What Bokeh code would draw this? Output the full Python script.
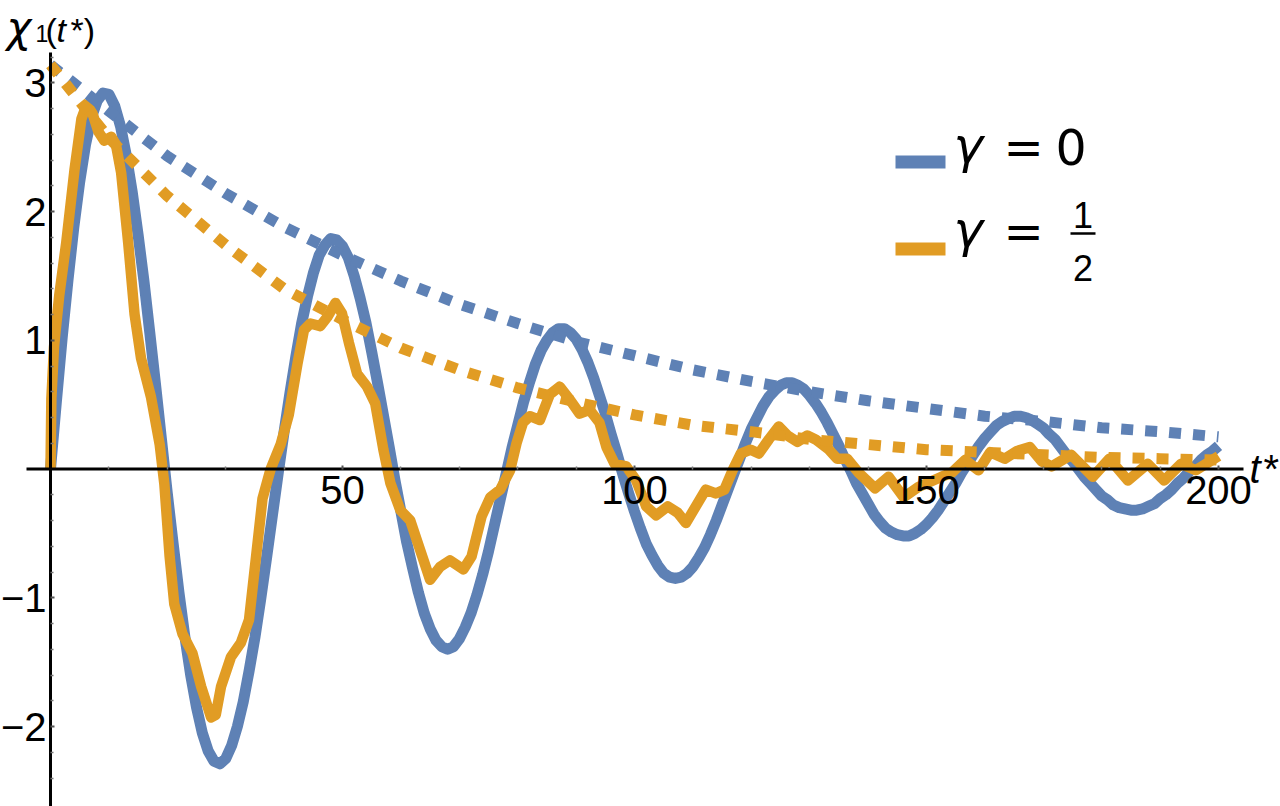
from bokeh.plotting import figure
from bokeh.models import Range1d, FixedTicker, Label
from bokeh.embed import file_html
from bokeh.resources import INLINE

# ---------------- data ----------------
blue_t = list(range(0, 201))
blue_v = [0.00, 0.52, 1.02, 1.47, 1.88, 2.23, 2.52, 2.73, 2.86, 2.92,
          2.91, 2.82, 2.66, 2.43, 2.15, 1.82, 1.46, 1.06, 0.65, 0.23,
          -0.19, -0.58, -0.96, -1.30, -1.60, -1.85, -2.05, -2.19, -2.27, -2.29,
          -2.25, -2.15, -2.00, -1.81, -1.57, -1.31, -1.01, -0.69, -0.36, -0.03,
          0.29, 0.59, 0.87, 1.13, 1.34, 1.52, 1.66, 1.74, 1.79, 1.78,
          1.73, 1.64, 1.50, 1.33, 1.14, 0.91, 0.67, 0.42, 0.17, -0.09,
          -0.33, -0.57, -0.77, -0.96, -1.12, -1.24, -1.33, -1.38, -1.40, -1.38,
          -1.32, -1.23, -1.12, -0.98, -0.82, -0.64, -0.44, -0.24, -0.04, 0.16,
          0.34, 0.52, 0.67, 0.81, 0.92, 1.00, 1.06, 1.09, 1.09, 1.06,
          1.01, 0.93, 0.83, 0.71, 0.57, 0.43, 0.27, 0.12, -0.04, -0.19,
          -0.33, -0.46, -0.58, -0.67, -0.75, -0.81, -0.84, -0.85, -0.84, -0.81,
          -0.76, -0.69, -0.61, -0.51, -0.40, -0.28, -0.16, -0.04, 0.08, 0.20,
          0.31, 0.40, 0.49, 0.56, 0.61, 0.65, 0.67, 0.67, 0.65, 0.62,
          0.57, 0.51, 0.44, 0.36, 0.27, 0.18, 0.08, -0.01, -0.11, -0.19,
          -0.27, -0.35, -0.41, -0.46, -0.49, -0.51, -0.52, -0.52, -0.50, -0.47,
          -0.43, -0.38, -0.32, -0.25, -0.18, -0.11, -0.03, 0.04, 0.11, 0.18,
          0.24, 0.29, 0.34, 0.37, 0.39, 0.41, 0.41, 0.40, 0.38, 0.35,
          0.32, 0.27, 0.23, 0.17, 0.11, 0.06, 0.00, -0.06, -0.11, -0.16,
          -0.21, -0.24, -0.28, -0.30, -0.31, -0.32, -0.32, -0.31, -0.29, -0.27,
          -0.23, -0.20, -0.16, -0.11, -0.07, -0.02, 0.02, 0.07, 0.11, 0.14,
          0.18]

orange_t = [0.0, 0.15, 0.6, 1.5, 2.7, 4.1, 5.3, 6.2, 7.2, 8.2, 9.2, 10.4, 11.2, 12.1,
            13.3, 14.4, 15.5, 17.2, 18.7, 19.5, 20.4, 21.2, 22.6, 24.3, 25.8, 27.5,
            28.3, 29.2, 30.9, 32.6, 34.0, 35.2, 36.3, 37.7, 39.4, 40.8, 42.3, 43.4,
            44.5, 46.2, 47.4, 48.8, 49.9, 51.1, 52.5, 54.2, 55.6, 57.0, 58.2, 59.9,
            61.6, 63.3, 65.0, 66.7, 68.4, 70.7, 72.1, 73.8, 75.3, 77.0, 78.7, 79.8,
            80.9, 82.1, 83.8, 85.5, 87.2, 88.9, 90.6, 92.3, 94.0, 95.2, 96.6, 98.6,
            100.3, 102.0, 103.7, 105.7, 107.4, 108.8, 110.5, 112.2, 113.9, 115.4,
            116.8, 118.2, 119.9, 121.3, 123.0, 124.7, 126.2, 127.9, 129.6, 131.0,
            133.3, 134.7, 136.4, 138.4, 141.2, 143.5, 146.1, 148.6, 152.6, 154.3,
            156.6, 158.9, 160.9, 163.4, 165.5, 167.7, 169.7, 171.4, 174.8, 178.5,
            181.3, 184.5, 187.9, 190.7, 193.6, 196.1, 200.0]
orange_v = [0.00, 0.55, 0.95, 1.35, 1.76, 2.32, 2.72, 2.83, 2.76, 2.62, 2.55, 2.58, 2.52, 2.30,
            1.76, 1.20, 0.86, 0.56, 0.19, -0.12, -0.68, -1.05, -1.28, -1.43, -1.69, -1.93,
            -1.91, -1.69, -1.46, -1.35, -1.17, -0.68, -0.23, 0.00, 0.19, 0.42, 0.82, 1.08,
            1.13, 1.11, 1.18, 1.29, 1.21, 0.98, 0.74, 0.64, 0.51, 0.15, -0.11, -0.32,
            -0.40, -0.63, -0.86, -0.76, -0.71, -0.78, -0.68, -0.37, -0.22, -0.16, -0.01, 0.20,
            0.36, 0.41, 0.38, 0.58, 0.64, 0.54, 0.43, 0.46, 0.36, 0.17, 0.04, 0.02,
            -0.09, -0.29, -0.36, -0.29, -0.34, -0.42, -0.29, -0.16, -0.19, -0.16,
            -0.01, 0.12, 0.15, 0.12, 0.23, 0.33, 0.26, 0.21, 0.26, 0.23,
            0.15, 0.08, 0.08, -0.03, -0.15, -0.06, -0.22, -0.14, -0.06, -0.03,
            0.07, -0.01, 0.13, 0.08, 0.14, 0.17, 0.06, 0.02, 0.11, -0.06,
            0.08, -0.09, 0.04, -0.09, 0.04, -0.01, 0.10]

env_t = [0, 10, 20, 30, 40, 50, 60, 70, 80, 90, 100, 110, 120, 130, 140, 150, 160, 170, 180, 190, 200]
blue_env = [3.14, 2.78, 2.43, 2.14, 1.88, 1.66, 1.46, 1.28, 1.13, 0.99, 0.88,
            0.77, 0.68, 0.60, 0.53, 0.47, 0.41, 0.37, 0.32, 0.29, 0.25]
orange_env = [3.14, 2.57, 2.12, 1.74, 1.40, 1.16, 0.94, 0.77, 0.63, 0.52, 0.42,
              0.34, 0.29, 0.23, 0.19, 0.15, 0.13, 0.11, 0.09, 0.08, 0.07]

x_ticks = [50, 100, 150, 200]
x_minor = [10, 20, 30, 40, 60, 70, 80, 90, 110, 120, 130, 140, 160, 170, 180, 190]
y_ticks = [-2, -1, 1, 2, 3]
y_minor = [-2.4, -2.2, -1.8, -1.6, -1.4, -1.2, -0.8, -0.6, -0.4, -0.2,
           0.2, 0.4, 0.6, 0.8, 1.2, 1.4, 1.6, 1.8, 2.2, 2.4, 2.6, 2.8, 3.2]
y_labels = {-2: "\u22122", -1: "\u22121"}
legend_labels = ["0", ("1", "2")]

BLUE = "#5E81B5"
ORANGE = "#E19C24"

# ---------------- layout helpers (page pixels -> data) ----------------
XS, X0P = 5.84, 50.0      # px per unit, page x of t=0
YS, Y0P = 128.75, 468.5   # px per unit, page y of v=0


def px_x(px):
    return (px - X0P) / XS


def px_y(py):
    return (Y0P - py) / YS


W, H = 1280, 806
p = figure(width=W, height=H,
           x_range=Range1d(px_x(0), px_x(W)),
           y_range=Range1d(px_y(H), px_y(0)),
           output_backend="svg", toolbar_location=None,
           min_border_left=0, min_border_right=0,
           min_border_top=0, min_border_bottom=0)
p.grid.visible = False
p.outline_line_color = None
p.background_fill_color = "white"
p.border_fill_color = "white"

for ax in (p.xaxis[0], p.yaxis[0]):
    ax.fixed_location = 0
    ax.axis_line_color = None
    ax.major_tick_in = 4
    ax.major_tick_out = 0
    ax.minor_tick_in = 3
    ax.minor_tick_out = 0
    ax.major_tick_line_color = "#555555"
    ax.minor_tick_line_color = "#777777"
    ax.major_tick_line_width = 2
    ax.minor_tick_line_width = 1.5
    ax.major_label_text_font = "Liberation Sans"
    ax.major_label_text_font_size = "40px"
    ax.major_label_text_color = "black"

p.xaxis[0].major_label_standoff = 7
p.yaxis[0].major_label_standoff = 4
p.xaxis[0].ticker = FixedTicker(ticks=x_ticks, minor_ticks=x_minor)
p.yaxis[0].ticker = FixedTicker(ticks=y_ticks, minor_ticks=y_minor)
p.yaxis[0].major_label_overrides = y_labels

# ---------------- curves ----------------
p.line(blue_t, blue_v, line_color=BLUE, line_width=11, line_join="round")
p.line(orange_t, orange_v, line_color=ORANGE, line_width=10.5, line_join="round")
p.line(env_t, blue_env, line_color=BLUE, line_width=11, line_dash="12 12")
p.line(env_t, orange_env, line_color=ORANGE, line_width=11, line_dash="12 12")

# axis lines (drawn over the curves, as in the reference)
p.segment(x0=[px_x(26), 0], y0=[0, px_y(52)], x1=[px_x(1243), 0], y1=[0, px_y(H)],
          line_color="black", line_width=3)


def lab(text, px, base, size, font="Liberation Sans", style="normal", align="left"):
    # place text so that its alphabetic baseline sits at page y = base
    p.add_layout(Label(x=px_x(px), y=px_y(base - 0.346 * size), text=text,
                       text_font=font, text_font_size=f"{size}px",
                       text_font_style=style, text_color="black",
                       text_baseline="middle", text_align=align))


# axis labels
lab("\u03c7", 6, 42, 42, font="DejaVu Sans", style="italic")
lab("1", 35, 41, 23)
lab("(", 45, 41, 34)
lab("t", 56, 41, 34, style="italic")
lab("*)", 70, 41, 34)
lab("t", 1249, 482, 40, style="italic")
lab("*", 1263, 482, 40)

# legend
p.line([px_x(895), px_x(945)], [px_y(161.5)] * 2, line_color=BLUE, line_width=13)
p.line([px_x(895), px_x(945)], [px_y(248.5)] * 2, line_color=ORANGE, line_width=13)
for base in (163, 247):
    lab("\u03b3", 953, base, 50, font="DejaVu Sans", style="italic")
    lab("=", 1003, base, 48, font="DejaVu Sans")
lab(legend_labels[0], 1055, 163, 49, font="DejaVu Sans")
lab(legend_labels[1][0], 1082.5, 227, 36, align="center")
lab(legend_labels[1][1], 1082.5, 280, 36, align="center")
p.line([px_x(1070), px_x(1095)], [px_y(233)] * 2, line_color="black", line_width=2.5)

open("out.html", "w").write(file_html(p, INLINE))
